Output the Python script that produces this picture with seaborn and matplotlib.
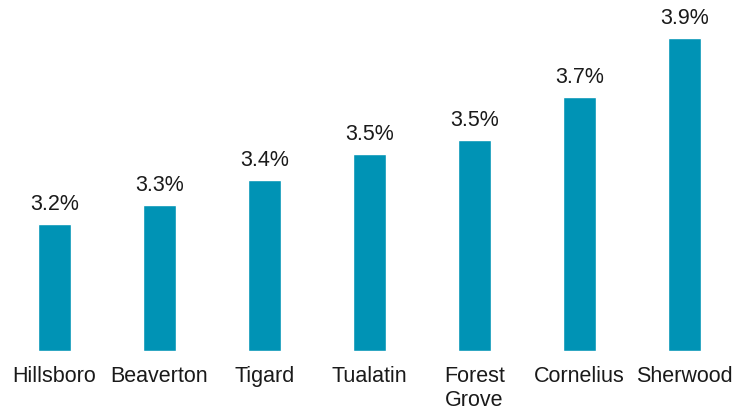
import matplotlib
matplotlib.use("Agg")
import matplotlib.pyplot as plt
import seaborn as sns
import pandas as pd

sns.set_theme(style="white")
plt.rcParams['font.family'] = ['Liberation Sans', 'DejaVu Sans']

# --- data ---
cities = ['Hillsboro', 'Beaverton', 'Tigard', 'Tualatin', 'Forest\nGrove', 'Cornelius', 'Sherwood']
rates = [3.22, 3.29, 3.385, 3.48, 3.53, 3.69, 3.91]

df = pd.DataFrame({'City': cities, 'Rate': rates})

fig = plt.figure(figsize=(7.51, 4.16), dpi=100)
ax = fig.add_axes([2 / 751, 65 / 416, 735 / 751, 351 / 416])

sns.barplot(data=df, x='City', y='Rate', color='#0093B5', width=0.31,
            saturation=1, ax=ax)

# value labels above bars
for p, v in zip(ax.patches, df['Rate']):
    ax.annotate(f"{v:.1f}%", (p.get_x() + p.get_width() / 2, p.get_height()),
                xytext=(0, 6.5), textcoords='offset points',
                ha='center', va='bottom', fontsize=15.5, color='#1a1a1a')

ax.set_ylim(2.75, 4.05)
ax.set_xlim(-0.5, len(cities) - 0.5)
ax.set_xlabel('')
ax.set_ylabel('')
ax.set_yticks([])
ax.tick_params(axis='x', length=0, pad=11, labelsize=15.5, labelcolor='#1a1a1a')
for s in ax.spines.values():
    s.set_visible(False)

# bars start at the bottom of the axes (not at zero)
for p in ax.patches:
    p.set_y(2.75)
    p.set_height(p.get_height() - 2.75)

fig.savefig('out.png', dpi=100)
